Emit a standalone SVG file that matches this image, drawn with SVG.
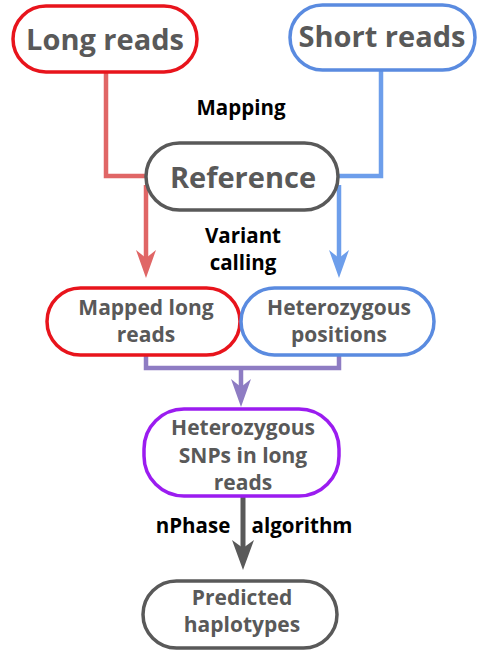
<svg xmlns="http://www.w3.org/2000/svg" width="493" height="664" viewBox="0 0 493 664">
<style>
.node{fill:#fff;stroke-width:3.5}
.t{font-family:"Open Sans",Lato,sans-serif;font-weight:700;fill:#595959;text-anchor:middle}
.big{font-size:29px}
.sm{font-size:21px}
.lbl{font-family:"Open Sans",Lato,sans-serif;font-weight:700;fill:#000;font-size:20.5px;text-anchor:middle}
.c{fill:none;stroke-width:4.5}
</style>
<g id="connectors">
<polyline class="c" stroke="#e06666" points="106,72 106,176 146,176"/>
<polyline class="c" stroke="#6d9eeb" points="381,70 381,176 338,176"/>
<g stroke-width="4.5" fill="none">
<line x1="146" y1="185" x2="146" y2="270" stroke="#e06666"/>
<path d="M136,250 L146,258 L156,250 L146,278 Z" fill="#e06666" stroke="none"/>
<line x1="339" y1="185" x2="339" y2="270" stroke="#6d9eeb"/>
<path d="M329,250 L339,258 L349,250 L339,278 Z" fill="#6d9eeb" stroke="none"/>
<polyline points="146,355 146,368 339,368 339,355" stroke="#8e7cc3"/>
<line x1="241" y1="368" x2="241" y2="398" stroke="#8e7cc3"/>
<path d="M231,379 L241,387 L251,379 L241,407 Z" fill="#8e7cc3" stroke="none"/>
<line x1="243" y1="497" x2="243" y2="560" stroke="#595959" stroke-width="5"/>
<path d="M232,540 L243,548 L254,540 L243,570 Z" fill="#595959" stroke="none"/>
</g>
<text class="lbl" x="241" y="115">Mapping</text>
<text class="lbl" x="243" y="243">Variant</text>
<text class="lbl" x="243" y="270">calling</text>
<text class="lbl" x="193" y="533">nPhase</text>
<text class="lbl" x="302" y="533">algorithm</text>
</g>
<g id="long-reads">
<rect class="node" stroke="#e8141c" x="13" y="6" width="184" height="66" rx="33"/>
<text class="t big" x="105" y="50">Long reads</text>
</g>
<g id="short-reads">
<rect class="node" stroke="#5a8be0" x="290" y="5" width="185" height="65" rx="32.5"/>
<text class="t big" x="382" y="47">Short reads</text>
</g>
<g id="reference">
<rect class="node" stroke="#595959" x="146" y="143" width="192" height="67" rx="33.5"/>
<text class="t big" x="243" y="188">Reference</text>
</g>
<g id="mapped-long-reads">
<rect class="node" stroke="#e8141c" x="47" y="288" width="193" height="67" rx="33.5"/>
<text class="t sm" x="146" y="315">Mapped long</text>
<text class="t sm" x="146" y="342">reads</text>
</g>
<g id="heterozygous-positions">
<rect class="node" stroke="#5a8be0" x="241" y="288" width="193" height="67" rx="33.5"/>
<text class="t sm" x="339" y="315">Heterozygous</text>
<text class="t sm" x="339" y="342">positions</text>
</g>
<g id="heterozygous-snps">
<rect class="node" stroke="#9b1cf0" x="144" y="409" width="195" height="87" rx="40"/>
<text class="t sm" x="243" y="435">Heterozygous</text>
<text class="t sm" x="243" y="463">SNPs in long</text>
<text class="t sm" x="243" y="490">reads</text>
</g>
<g id="predicted-haplotypes">
<rect class="node" stroke="#595959" x="143" y="581" width="194" height="67" rx="33.5"/>
<text class="t sm" x="242" y="605">Predicted</text>
<text class="t sm" x="242" y="632">haplotypes</text>
</g>
</svg>
